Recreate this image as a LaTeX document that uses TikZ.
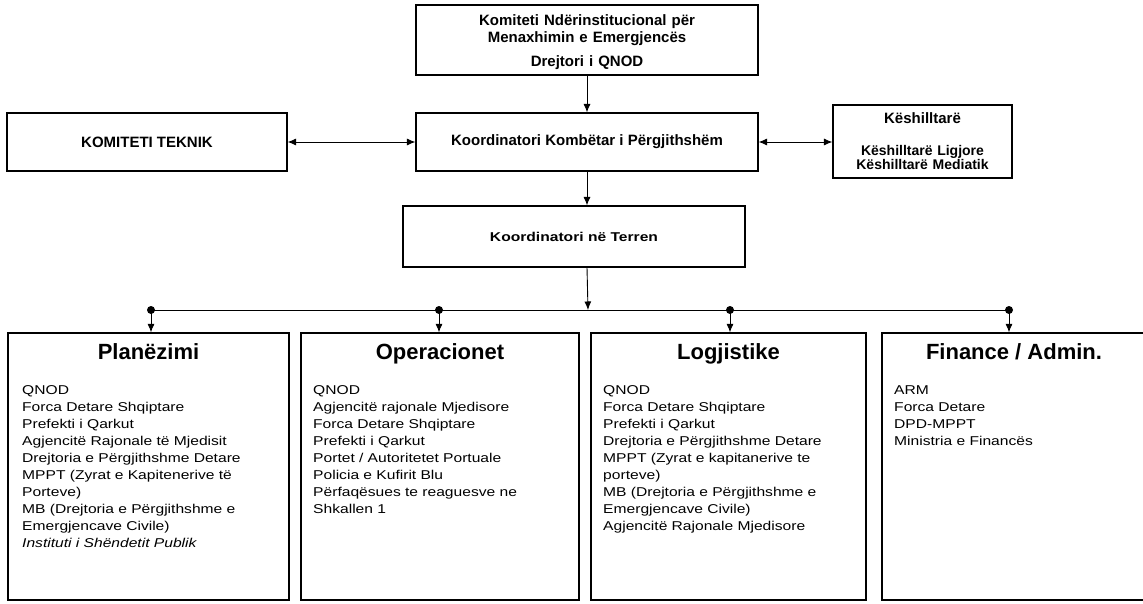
\documentclass[tikz,border=0pt]{standalone}
\usepackage{fontspec}
\setmainfont{Liberation Sans}
\newfontfamily\widefont[FakeStretch=1.22]{Liberation Sans}
\usetikzlibrary{arrows.meta}
\begin{document}
\begin{tikzpicture}[x=1pt,y=-1pt,
  box/.style={draw, line width=1.1pt, rectangle, inner sep=0pt},
  arr/.style={line width=0.9pt, -{Latex[length=8.5pt,width=7pt]}},
  darr/.style={line width=0.9pt, {Latex[length=8.5pt,width=7pt]}-{Latex[length=8.5pt,width=7pt]}},
  busline/.style={line width=0.9pt},
  dotnode/.style={circle, fill, inner sep=0pt, minimum size=8pt},
  headtxt/.style={font=\bfseries\fontsize{15}{17}\selectfont},
  smalltxt/.style={font=\bfseries\fontsize{14}{14}\selectfont},
  terrentxt/.style={font=\widefont\bfseries\fontsize{12.8}{15}\selectfont},
  titletxt/.style={font=\bfseries\fontsize{22}{24}\selectfont, anchor=base, inner sep=0pt},
  bodytxt/.style={font=\widefont\fontsize{12.8}{17}\selectfont, anchor=base west, inner sep=0pt, text width=262pt, align=left}
]
\useasboundingbox (0,0) rectangle (1143,604);

% top level boxes
\node[box, minimum width=342pt, minimum height=70pt] (top) at (587,40) {};
\node[headtxt, anchor=base, inner sep=0pt, text width=330pt, align=center] (toptxt) at (587,26)
  {Komiteti Ndërinstitucional për\\Menaxhimin e Emergjencës\\[7pt]Drejtori i QNOD};

\node[box, headtxt, minimum width=342pt, minimum height=58pt] (komb) at (587,142) {Koordinatori Kombëtar i Përgjithshëm};
\node[box, headtxt, minimum width=280pt, minimum height=58pt] (teknik) at (147,142) {KOMITETI TEKNIK};
\node[box, minimum width=179pt, minimum height=73pt] (keshill) at (922.5,141.5) {};
\node[headtxt, anchor=base, inner sep=0pt] (keshtitle) at (922.5,124) {Këshilltarë};
\node[smalltxt, anchor=base, inner sep=0pt, text width=170pt, align=center] (keshlist) at (922.5,156)
  {Këshilltarë Ligjore\\Këshilltarë Mediatik};

\node[box, terrentxt, minimum width=342pt, minimum height=61pt] (terren) at (574,236.5) {Koordinatori në Terren};

% arrows upper part
\draw[arr] (top.south) -- (top.south |- komb.north);
\draw[darr] (teknik.east) -- (komb.west);
\draw[darr] (komb.east) -- (keshill.west |- komb.east);
\draw[arr] (top.south |- komb.south) -- (top.south |- terren.north);

% bottom boxes
\node[box, line width=1.2pt, minimum width=281pt, minimum height=267pt] (b1) at (148.5,466.5) {};
\node[box, line width=1.2pt, minimum width=278pt, minimum height=267pt] (b2) at (440,466.5) {};
\node[box, line width=1.2pt, minimum width=275pt, minimum height=267pt] (b3) at (728.5,466.5) {};
\node[box, line width=1.2pt, minimum width=264pt, minimum height=267pt] (b4) at (1014,466.5) {};

% bus
\coordinate (busy) at (588,310);
\node[dotnode] (d1) at (151,310) {};
\node[dotnode] (d2) at (439,310) {};
\node[dotnode] (d3) at (730,310) {};
\node[dotnode] (d4) at (1009,310) {};
\draw[busline] (d1.center) -- (d4.center);
\draw[arr] (top.south |- terren.south) -- (busy);
\draw[arr] (d1.center) -- (d1.center |- b1.north);
\draw[arr] (d2.center) -- (d2.center |- b2.north);
\draw[arr] (d3.center) -- (d3.center |- b3.north);
\draw[arr] (d4.center) -- (d4.center |- b4.north);

% titles
\node[titletxt] (t1) at (148.5,359) {Planëzimi};
\node[titletxt] (t2) at (440,359) {Operacionet};
\node[titletxt] (t3) at (728.5,359) {Logjistike};
\node[titletxt] (t4) at (1014,359) {Finance / Admin.};

% bodies
\node[bodytxt] (x1) at (22,394) {QNOD\\Forca Detare Shqiptare\\Prefekti i Qarkut\\Agjencitë Rajonale të Mjedisit\\Drejtoria e Përgjithshme Detare\\MPPT (Zyrat e Kapitenerive të\\Porteve)\\MB (Drejtoria e Përgjithshme e\\Emergjencave Civile)\\\textit{Instituti i Shëndetit Publik}};
\node[bodytxt] (x2) at (313,394) {QNOD\\Agjencitë rajonale Mjedisore\\Forca Detare Shqiptare\\Prefekti i Qarkut\\Portet / Autoritetet Portuale\\Policia e Kufirit Blu\\Përfaqësues te reaguesve ne\\Shkallen 1};
\node[bodytxt] (x3) at (603,394) {QNOD\\Forca Detare Shqiptare\\Prefekti i Qarkut\\Drejtoria e Përgjithshme Detare\\MPPT (Zyrat e kapitanerive te\\porteve)\\MB (Drejtoria e Përgjithshme e\\Emergjencave Civile)\\Agjencitë Rajonale Mjedisore};
\node[bodytxt] (x4) at (894,394) {ARM\\Forca Detare\\DPD-MPPT\\Ministria e Financës};
\end{tikzpicture}
\end{document}
